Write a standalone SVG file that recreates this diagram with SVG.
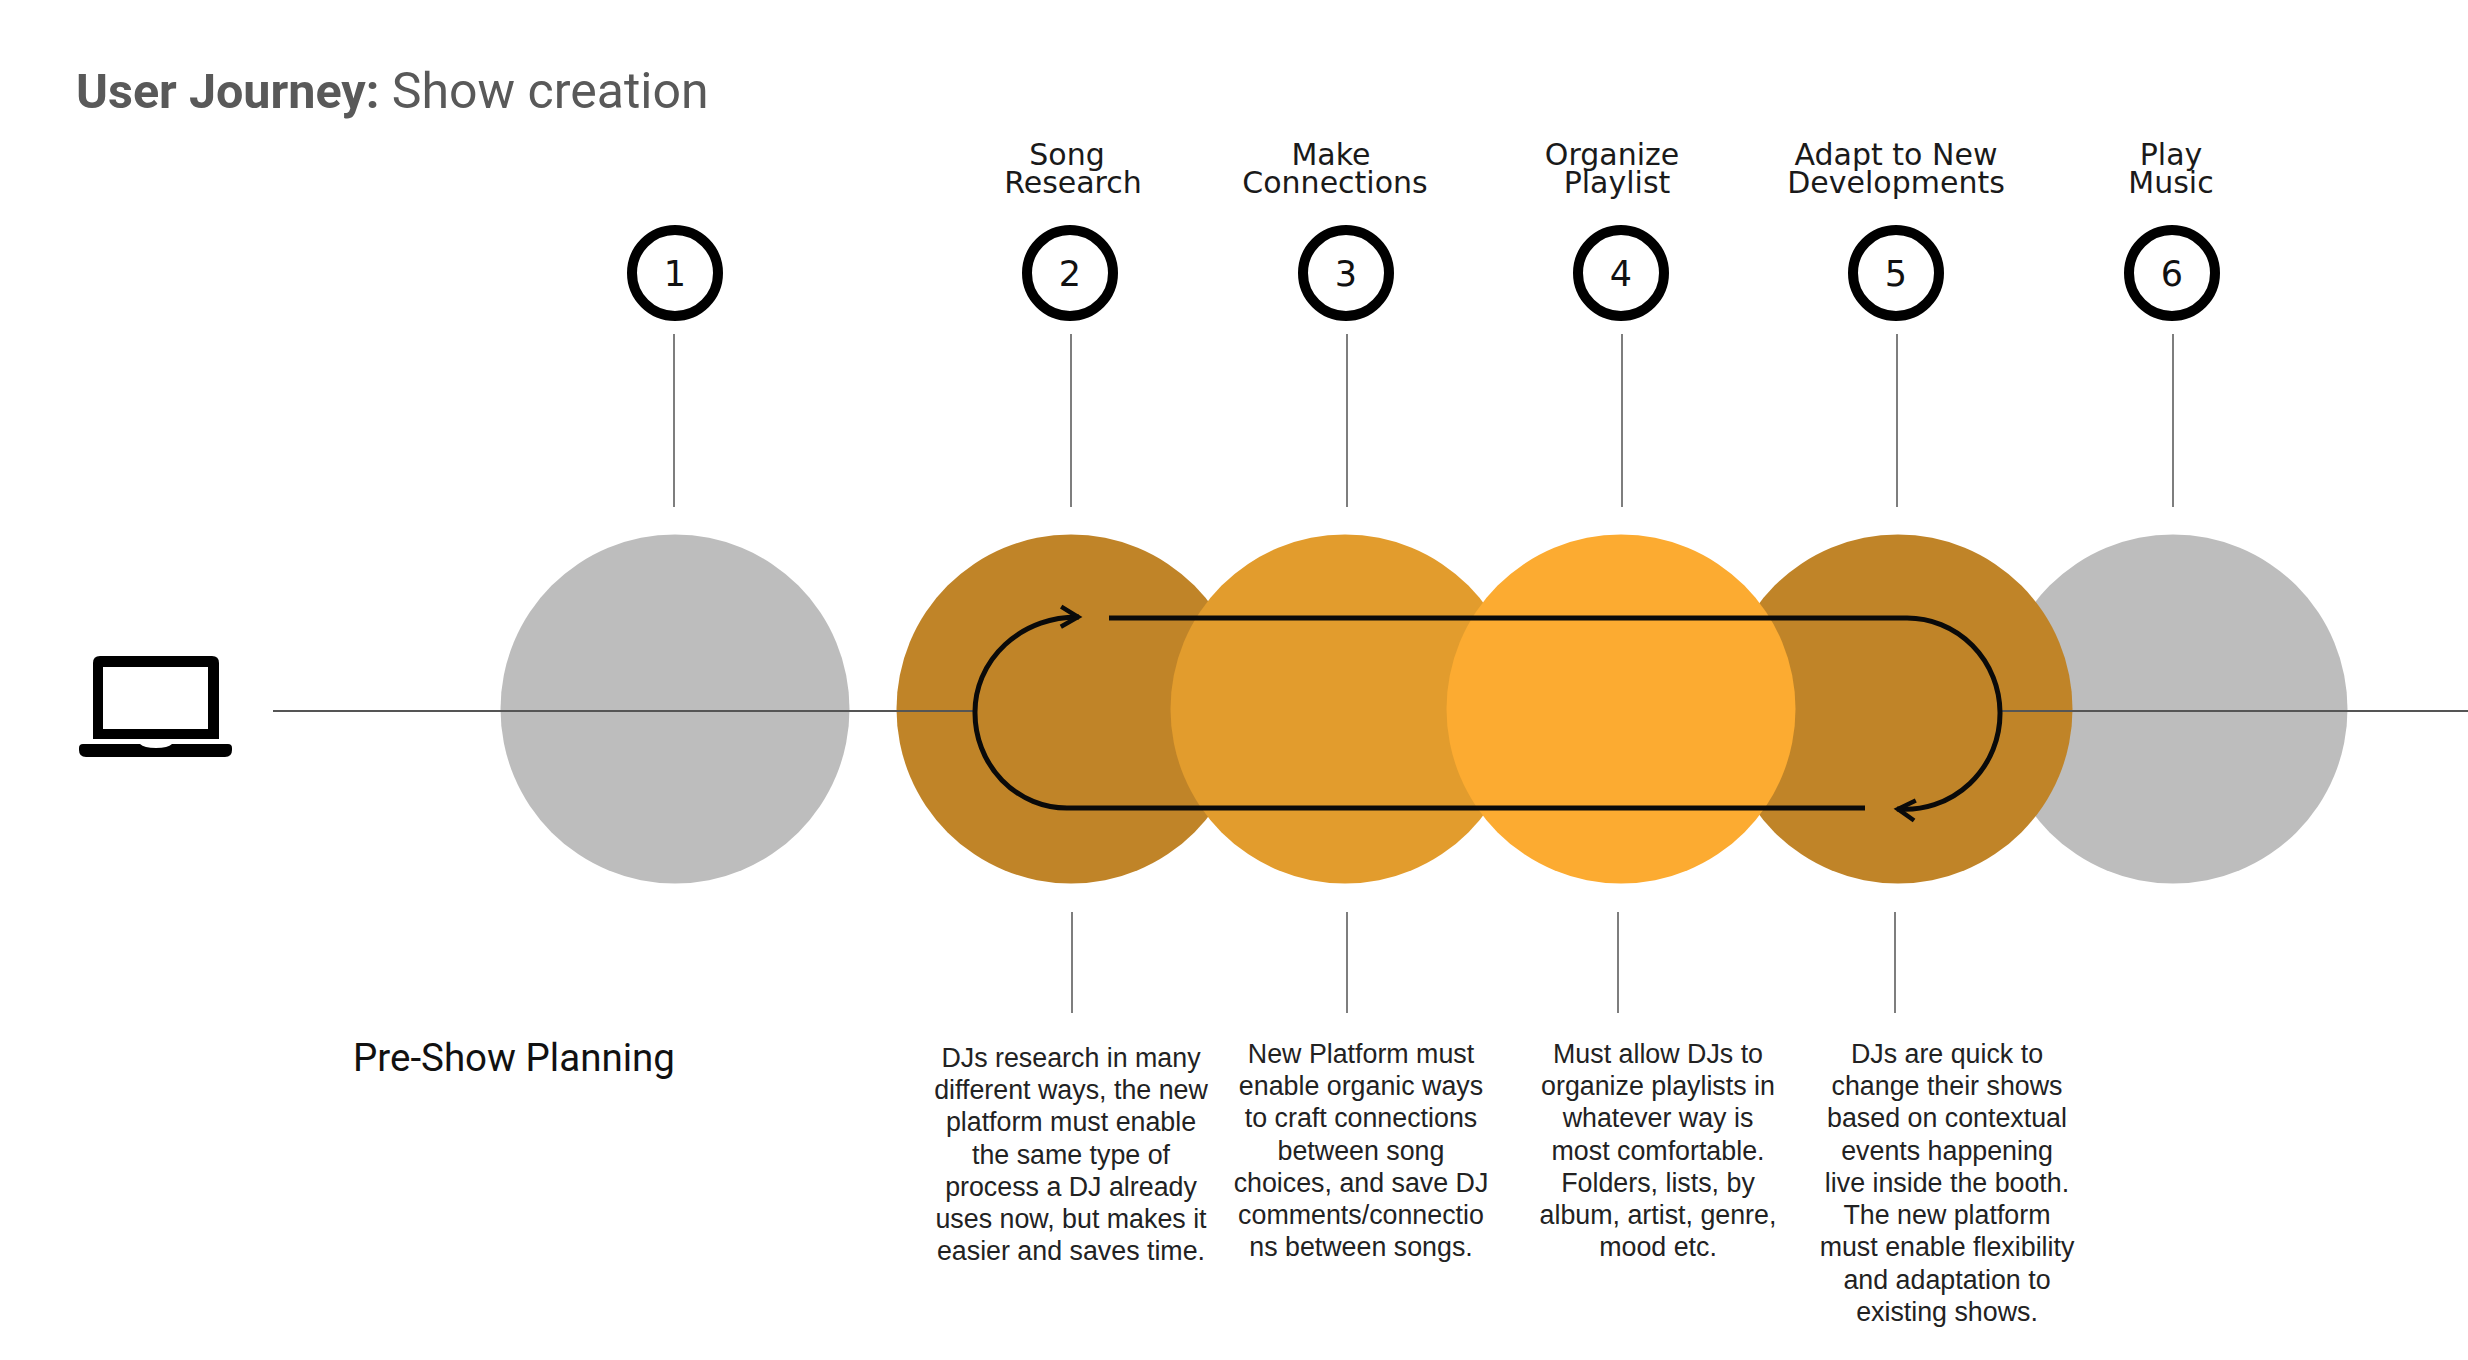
<svg xmlns="http://www.w3.org/2000/svg" width="2468" height="1360" viewBox="0 0 2468 1360">
<style>
.ring{fill:#fff;stroke:#000;stroke-width:10}
.num{font-family:"DejaVu Sans",sans-serif;font-size:35px;fill:#111;text-anchor:middle}
.head{font-family:"DejaVu Sans",sans-serif;font-size:30px;fill:#1a1a1a;text-anchor:middle}
.desc{font-family:"Liberation Sans",Arial,sans-serif;font-size:26.8px;fill:#222;text-anchor:middle}
.tick{stroke:#707070;stroke-width:1.8;fill:none}
.axis{stroke:#555;stroke-width:2;fill:none}
.loop{stroke:#0a0a0a;stroke-width:5;fill:none}
.gray{fill:#bdbdbd}.dark{fill:#c08428}.mid{fill:#e29c2d}.light{fill:#fcab31}
</style>
<defs>
<marker id="chev" markerUnits="userSpaceOnUse" markerWidth="30" markerHeight="34" refX="22" refY="17" orient="auto">
<path d="M4 7 L21 17 L4 27" fill="none" stroke="#0a0a0a" stroke-width="4.5"/>
</marker>
</defs>
<rect width="2468" height="1360" fill="#fff"/>
<text x="76" y="108" font-family="Roboto,sans-serif" font-size="50px" fill="#595959"><tspan font-weight="700" font-size="48.5px">User Journey:</tspan> Show creation</text>

<g id="stage-circles">
<circle id="circle-1" class="gray" cx="675" cy="709" r="174.5"/>
<circle id="circle-6" class="gray" cx="2173" cy="709" r="174.5"/>
<circle id="circle-5" class="dark" cx="1898" cy="709" r="174.5"/>
<circle id="circle-2" class="dark" cx="1071" cy="709" r="174.5"/>
<circle id="circle-3" class="mid" cx="1345" cy="709" r="174.5"/>
<circle id="circle-4" class="light" cx="1621" cy="709" r="174.5"/>
</g>

<g id="connectors">
<path class="axis" d="M273 711H973"/>
<path class="axis" d="M2000 711H2468"/>
<path class="tick" d="M674 334V507"/>
<path class="tick" d="M1071 334V507"/>
<path class="tick" d="M1347 334V507"/>
<path class="tick" d="M1622 334V507"/>
<path class="tick" d="M1897 334V507"/>
<path class="tick" d="M2173 334V507"/>
<path class="tick" d="M1072 912V1013"/>
<path class="tick" d="M1347 912V1013"/>
<path class="tick" d="M1618 912V1013"/>
<path class="tick" d="M1895 912V1013"/>
<path class="loop" d="M1109 618H1907A93 95 0 0 1 2000 712A95 96 0 0 1 1897 809" marker-end="url(#chev)"/>
<path class="loop" d="M1865 808H1067A92 95 0 0 1 975 713A102 95 0 0 1 1079 617" marker-end="url(#chev)"/>
</g>

<g id="laptop">
<path fill-rule="evenodd" fill="#000" d="M100 656H212Q219 656 219 663V739H93V663Q93 656 100 656ZM103 667V729H208V667Z"/>
<path fill="#000" d="M83 744H140Q144 748 156 748Q168 748 172 744H228Q232 744 232 748V750Q232 757 225 757H86Q79 757 79 750V748Q79 744 83 744Z"/>
</g>

<g id="step-1">
<circle class="ring" cx="675" cy="273" r="43"/>
<text class="num" x="675" y="286">1</text>
<text x="353" y="1071" font-family="Roboto,sans-serif" font-size="38.5px" fill="#111">Pre-Show Planning</text>
</g>
<g id="step-2">
<text class="head" x="1067" y="165">Song</text>
<text class="head" x="1073" y="193">Research</text>
<circle class="ring" cx="1070" cy="273" r="43"/>
<text class="num" x="1070" y="286">2</text>
<text class="desc" x="1071" y="1067">DJs research in many</text>
<text class="desc" x="1071" y="1099">different ways, the new</text>
<text class="desc" x="1071" y="1131">platform must enable</text>
<text class="desc" x="1071" y="1164">the same type of</text>
<text class="desc" x="1071" y="1196">process a DJ already</text>
<text class="desc" x="1071" y="1228">uses now, but makes it</text>
<text class="desc" x="1071" y="1260">easier and saves time.</text>
</g>
<g id="step-3">
<text class="head" x="1331" y="165">Make</text>
<text class="head" x="1335" y="193">Connections</text>
<circle class="ring" cx="1346" cy="273" r="43"/>
<text class="num" x="1346" y="286">3</text>
<text class="desc" x="1361" y="1063">New Platform must</text>
<text class="desc" x="1361" y="1095">enable organic ways</text>
<text class="desc" x="1361" y="1127">to craft connections</text>
<text class="desc" x="1361" y="1160">between song</text>
<text class="desc" x="1361" y="1192">choices, and save DJ</text>
<text class="desc" x="1361" y="1224">comments/connectio</text>
<text class="desc" x="1361" y="1256">ns between songs.</text>
</g>
<g id="step-4">
<text class="head" x="1612" y="165">Organize</text>
<text class="head" x="1617" y="193">Playlist</text>
<circle class="ring" cx="1621" cy="273" r="43"/>
<text class="num" x="1621" y="286">4</text>
<text class="desc" x="1658" y="1063">Must allow DJs to</text>
<text class="desc" x="1658" y="1095">organize playlists in</text>
<text class="desc" x="1658" y="1127">whatever way is</text>
<text class="desc" x="1658" y="1160">most comfortable.</text>
<text class="desc" x="1658" y="1192">Folders, lists, by</text>
<text class="desc" x="1658" y="1224">album, artist, genre,</text>
<text class="desc" x="1658" y="1256">mood etc.</text>
</g>
<g id="step-5">
<text class="head" x="1896" y="165">Adapt to New</text>
<text class="head" x="1896" y="193">Developments</text>
<circle class="ring" cx="1896" cy="273" r="43"/>
<text class="num" x="1896" y="286">5</text>
<text class="desc" x="1947" y="1063">DJs are quick to</text>
<text class="desc" x="1947" y="1095">change their shows</text>
<text class="desc" x="1947" y="1127">based on contextual</text>
<text class="desc" x="1947" y="1160">events happening</text>
<text class="desc" x="1947" y="1192">live inside the booth.</text>
<text class="desc" x="1947" y="1224">The new platform</text>
<text class="desc" x="1947" y="1256">must enable flexibility</text>
<text class="desc" x="1947" y="1289">and adaptation to</text>
<text class="desc" x="1947" y="1321">existing shows.</text>
</g>
<g id="step-6">
<text class="head" x="2171" y="165">Play</text>
<text class="head" x="2171" y="193">Music</text>
<circle class="ring" cx="2172" cy="273" r="43"/>
<text class="num" x="2172" y="286">6</text>
</g>
</svg>
